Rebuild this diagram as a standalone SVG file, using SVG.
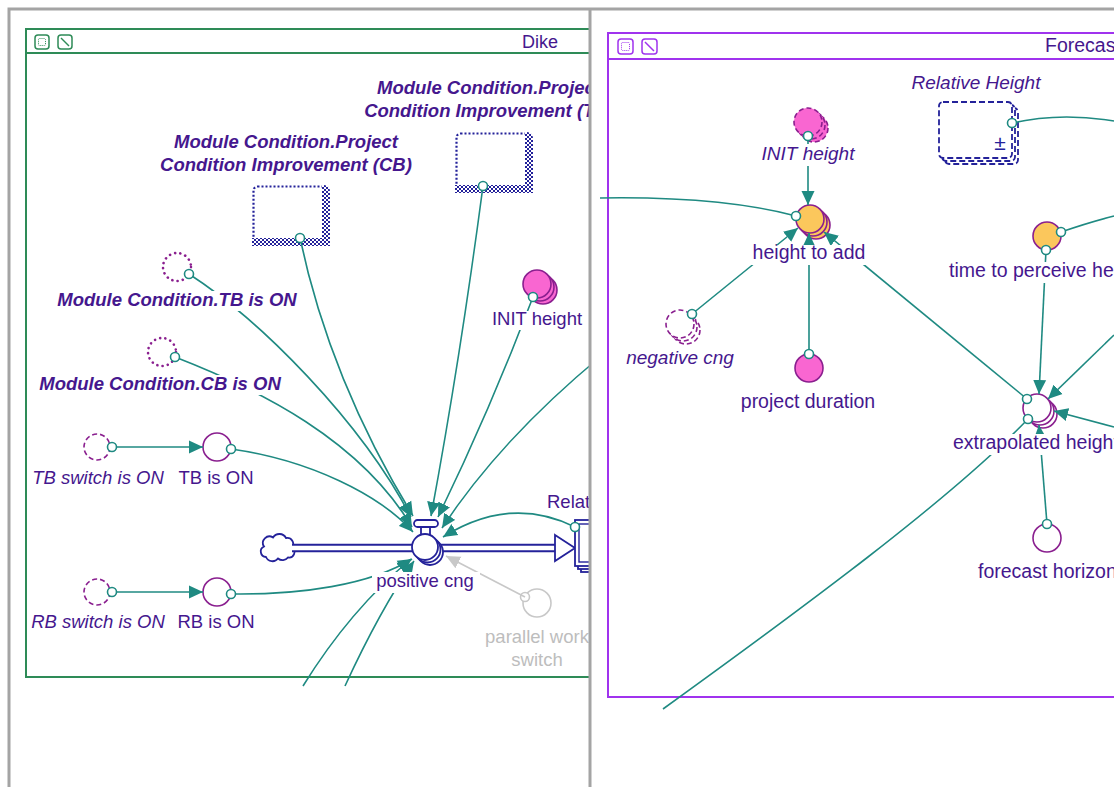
<svg xmlns="http://www.w3.org/2000/svg" width="1114" height="787" viewBox="0 0 1114 787">
<defs>
<style>
.t{font-family:"Liberation Sans",Arial,Helvetica,sans-serif;font-size:18.5px;fill:#45178e}
.r{font-size:19.5px}
.ri{font-size:19px}
.c{text-anchor:middle}
.i{font-style:italic}
.b{font-weight:bold;font-style:italic}
.g{fill:#bdbdbd}
.cn{fill:none;stroke:#1f8a82;stroke-width:1.6}
.cg{fill:none;stroke:#c8c8c8;stroke-width:1.6;marker-end:url(#ahg)}
.a{marker-end:url(#ah)}
.s{marker-start:url(#src)}
.aux{fill:#fff;stroke:#8a1f8f;stroke-width:1.6}
.pk{fill:#f966d1;stroke:#8a1f8f;stroke-width:1.6}
.or{fill:#fbc75c;stroke:#8a1f8f;stroke-width:1.6}
.dsh{stroke-dasharray:5 3}
.dots{fill:#fff;stroke:#8a1f8f;stroke-width:2.6;stroke-linecap:round;stroke-dasharray:0.1 5.2}
.nv{fill:#fff;stroke:#24229a;stroke-width:1.8}
.gh{fill:#fff;stroke:#24229a;stroke-width:1.8;stroke-dasharray:6 3}
.gray{fill:#fff;stroke:#c8c8c8;stroke-width:1.6}
.frD{fill:none;stroke:#2e8b57;stroke-width:2}
.frF{fill:none;stroke:#a033ee;stroke-width:2}
.icD{fill:#fff;stroke:#2e8b57;stroke-width:1.5}
.icF{fill:#fff;stroke:#a033ee;stroke-width:1.5}
.win{fill:none;stroke:#a4a4a4;stroke-width:3}
</style>
<clipPath id="cpL"><rect x="10" y="10" width="579" height="777"/></clipPath>
<clipPath id="cpR"><rect x="591" y="10" width="523" height="777"/></clipPath>
<pattern id="chk" width="4" height="4" patternUnits="userSpaceOnUse">
<rect width="4" height="4" fill="#fff"/>
<rect width="2" height="2" fill="#24229a"/>
<rect x="2" y="2" width="2" height="2" fill="#24229a"/>
</pattern>
<marker id="ah" markerWidth="15" markerHeight="14" refX="14" refY="7" orient="auto" markerUnits="userSpaceOnUse">
<path d="M0,0.5 L14,7 L0,13.5 Z" fill="#1f8a82"/>
</marker>
<marker id="ahg" markerWidth="15" markerHeight="14" refX="14" refY="7" orient="auto" markerUnits="userSpaceOnUse">
<path d="M0,0.5 L14,7 L0,13.5 Z" fill="#c8c8c8"/>
</marker>
<marker id="src" markerWidth="12" markerHeight="12" refX="6" refY="6" markerUnits="userSpaceOnUse">
<circle cx="6" cy="6" r="4.5" fill="#fff" stroke="#1f8a82" stroke-width="1.6"/>
</marker>
<!-- label areas that connectors run beneath -->
<mask id="lblHide" maskUnits="userSpaceOnUse" x="0" y="0" width="1114" height="787">
<rect width="1114" height="787" fill="#fff"/>
<rect x="56" y="291" width="244" height="20" fill="#000"/>
<rect x="38" y="375" width="246" height="20" fill="#000"/>
<rect x="489" y="311" width="96" height="19" fill="#000"/>
<rect x="372" y="572" width="108" height="21" fill="#000"/>
<rect x="749" y="245" width="120" height="20" fill="#000"/>
<rect x="946" y="262" width="170" height="21" fill="#000"/>
<rect x="950" y="434" width="166" height="21" fill="#000"/>
<rect x="759" y="144" width="100" height="22" fill="#000"/>
</mask>
<!-- module box: dotted outline with checkered shadow edge -->
<g id="modbox">
<rect x="1.5" y="1.5" width="72" height="56" rx="4" fill="#fff" stroke="#24229a" stroke-width="2.2" stroke-dasharray="2 2"/>
<path d="M70,0 H72 A6,6 0 0 1 78,6 V61 H0 V53 H70 Z" fill="url(#chk)"/>
</g>
</defs>

<rect width="1114" height="787" fill="#fff"/>

<!-- ===== Dike module pane ===== -->
<g clip-path="url(#cpL)">
<g id="dike-frame">
<rect x="26" y="29" width="720" height="648" class="frD"/>
<line x1="26" y1="53" x2="746" y2="53" class="frD"/>
<rect x="35" y="35" width="14" height="14" rx="3" class="icD"/>
<rect x="38.5" y="38.5" width="7" height="7" rx="1" fill="none" stroke="#2e8b57" stroke-width="1" stroke-dasharray="1 1"/>
<rect x="58" y="35" width="14" height="14" rx="3" class="icD"/>
<line x1="61" y1="38" x2="69" y2="46" stroke="#2e8b57" stroke-width="1.5"/>
<text x="540" y="48" class="t c" style="font-size:18px">Dike</text>
</g>

<g id="n-mod-cb">
<use href="#modbox" transform="translate(252,185)"/>
<text x="286" y="148" class="t c b">Module Condition.Project</text>
<text x="286" y="171" class="t c b">Condition Improvement (CB)</text>
</g>

<g id="n-mod-tb">
<use href="#modbox" transform="translate(455,132)"/>
<text x="489" y="94" class="t c b">Module Condition.Project</text>
<text x="489" y="117" class="t c b">Condition Improvement (TB)</text>
</g>

<g id="n-mc-tb-on">
<circle cx="177" cy="267" r="14" class="dots"/>
<text x="177" y="306" class="t c b">Module Condition.TB is ON</text>
</g>

<g id="n-mc-cb-on">
<circle cx="162" cy="352" r="14" class="dots"/>
<text x="160" y="390" class="t c b">Module Condition.CB is ON</text>
</g>

<g id="n-tb-switch">
<circle cx="97" cy="447" r="13" class="aux dsh"/>
<text x="98" y="484" class="t c i">TB switch is ON</text>
</g>

<g id="n-tb-on">
<circle cx="217" cy="447" r="14" class="aux"/>
<text x="216" y="484" class="t c">TB is ON</text>
</g>

<g id="n-rb-switch">
<circle cx="97" cy="592" r="13" class="aux dsh"/>
<text x="98" y="628" class="t c i">RB switch is ON</text>
</g>

<g id="n-rb-on">
<circle cx="217" cy="592" r="14" class="aux"/>
<text x="216" y="628" class="t c">RB is ON</text>
</g>

<g id="n-init-dike">
<circle cx="543" cy="290" r="14" class="pk"/>
<circle cx="540" cy="287" r="14" class="pk"/>
<circle cx="537" cy="284" r="14" class="pk"/>
<text x="537" y="325" class="t c">INIT height</text>
</g>

<g id="n-cloud">
<path d="M266,557 a5.5,5.5 0 0 1 -2,-10.5 a6.5,6.5 0 0 1 9,-9 a7.5,7.5 0 0 1 13,0.5 a6,6 0 0 1 6,9.5 a5.5,5.5 0 0 1 -4,10 a7,7 0 0 1 -10,1 a7,7 0 0 1 -12,-1.5 z" class="nv"/>
</g>

<g id="n-positive-cng">
<line x1="292" y1="548" x2="557" y2="548" stroke="#24229a" stroke-width="8.5"/>
<line x1="290" y1="548" x2="559" y2="548" stroke="#fff" stroke-width="4.5"/>
<path d="M555,535 L575,548 L555,561 Z" class="nv" stroke-width="2"/>
<circle cx="430" cy="552" r="13" class="nv" stroke-width="1.4"/>
<circle cx="427.5" cy="549.5" r="13" class="nv" stroke-width="1.4"/>
<rect x="421" y="526" width="9" height="9" class="nv" stroke-width="1.6"/>
<rect x="414" y="520" width="24" height="7" rx="3.5" class="nv" stroke-width="2"/>
<circle cx="425" cy="547" r="13" class="nv" stroke-width="2"/>
<text x="425" y="587" class="t c">positive cng</text>
</g>

<g id="n-relh-dike">
<rect x="581" y="526" width="50" height="46" class="nv" stroke-width="1.5"/>
<rect x="578" y="523" width="50" height="46" class="nv" stroke-width="1.5"/>
<rect x="575" y="520" width="50" height="46" class="nv" stroke-width="2.2"/>
<rect x="579" y="524" width="42" height="38" fill="none" stroke="#24229a" stroke-width="1.4"/>
<text x="547" y="508" class="t">Relative Height</text>
</g>

<g id="n-parallel">
<circle cx="537" cy="603" r="14" class="gray"/>
<circle cx="525" cy="597" r="4.5" class="gray"/>
<text x="537" y="643" class="t c g">parallel work</text>
<text x="537" y="666" class="t c g">switch</text>
</g>
</g>

<!-- ===== Forecast module pane ===== -->
<g clip-path="url(#cpR)">
<g id="forecast-frame">
<rect x="608" y="33" width="620" height="664" class="frF"/>
<line x1="608" y1="59" x2="1228" y2="59" class="frF"/>
<rect x="618" y="39" width="15" height="15" rx="3" class="icF"/>
<rect x="621.5" y="42.5" width="8" height="8" rx="1" fill="none" stroke="#a033ee" stroke-width="1" stroke-dasharray="1 1"/>
<rect x="642" y="39" width="15" height="15" rx="3" class="icF"/>
<line x1="645" y1="42" x2="654" y2="51" stroke="#a033ee" stroke-width="1.5"/>
<text x="1045" y="52" class="t r">Forecast</text>
</g>

<g id="n-init-fc">
<circle cx="814" cy="128" r="14" class="pk dsh"/>
<circle cx="811" cy="125" r="14" class="pk dsh"/>
<circle cx="808" cy="122" r="14" class="pk dsh"/>
<text x="808" y="160" class="t ri c i">INIT height</text>
</g>

<g id="n-relh-fc">
<rect x="945" y="108" width="73" height="56" rx="4" class="gh"/>
<rect x="942" y="105" width="73" height="56" rx="4" class="gh"/>
<rect x="939" y="102" width="73" height="56" rx="4" class="gh"/>
<text x="1000" y="150" class="t c" style="fill:#24229a;font-size:21px">±</text>
<text x="976" y="89" class="t ri c i">Relative Height</text>
</g>

<g id="n-height-to-add">
<circle cx="816" cy="225" r="14" class="or"/>
<circle cx="813" cy="222" r="14" class="or"/>
<circle cx="810" cy="219" r="14" class="or"/>
<text x="809" y="259" class="t r c">height to add</text>
</g>

<g id="n-negative-cng">
<circle cx="686" cy="330" r="14" class="aux dsh"/>
<circle cx="683" cy="327" r="14" class="aux dsh"/>
<circle cx="680" cy="324" r="14" class="aux dsh"/>
<text x="680" y="364" class="t ri c i">negative cng</text>
</g>

<g id="n-project-duration">
<circle cx="809" cy="368" r="14" class="pk"/>
<text x="808" y="408" class="t r c">project duration</text>
</g>

<g id="n-time-perceive">
<circle cx="1047" cy="236" r="14" class="or"/>
<text x="949" y="277" class="t r">time to perceive height</text>
</g>

<g id="n-extrapolated">
<circle cx="1043" cy="414" r="14" class="aux"/>
<circle cx="1040" cy="411" r="14" class="aux"/>
<circle cx="1037" cy="408" r="14" class="aux"/>
<text x="953" y="449" class="t r">extrapolated height</text>
</g>

<g id="n-forecast-horizon">
<circle cx="1047" cy="538" r="14" class="aux"/>
<text x="978" y="578" class="t r">forecast horizon</text>
</g>
</g>

<!-- ===== connectors ===== -->
<g id="connectors" mask="url(#lblHide)">
<g clip-path="url(#cpL)">
<path d="M300,238 Q330,380 413,516" class="cn s a"/>
<path d="M483,186 Q460,360 431,516" class="cn s a"/>
<path d="M189,274 C260,320 360,420 411,517" class="cn s a"/>
<path d="M175,357 C260,390 360,440 412,527" class="cn s a"/>
<path d="M231,449 C310,460 380,495 413,532" class="cn s a"/>
<path d="M231,594 C300,595 370,585 412,559" class="cn s a"/>
<path d="M303,686 Q350,610 411,559" class="cn a"/>
<path d="M345,686 Q380,610 414,561" class="cn a"/>
<path d="M533,297 Q490,410 438,517" class="cn s a"/>
<path d="M600,357 Q500,440 442,528" class="cn a"/>
<path d="M575,527 Q510,495 443,537" class="cn s a"/>
<path d="M525,597 L446,556" class="cg"/>
<path d="M112,447 L203,447" class="cn s a"/>
<path d="M112,592 L203,592" class="cn s a"/>
</g>
<g clip-path="url(#cpR)">
<path d="M796,216 Q720,196 600,198" class="cn s"/>
<path d="M808,136 L808,205" class="cn s a"/>
<path d="M692,314 L798,228" class="cn s a"/>
<path d="M809,354 L809,233" class="cn s a"/>
<path d="M1027,399 L824,232" class="cn s a"/>
<path d="M1012,123 Q1060,112 1114,121" class="cn s"/>
<path d="M1061,232 Q1090,222 1114,216" class="cn s"/>
<path d="M1046,250 L1039,394" class="cn s a"/>
<path d="M1114,335 L1048,399" class="cn a"/>
<path d="M1114,427 L1054,411" class="cn a"/>
<path d="M1047,524 L1039,425" class="cn s a"/>
<path d="M1028,419 C950,500 800,610 663,709" class="cn s"/>
</g>
</g>

<!-- window borders -->
<g id="window">
<path d="M9,787 V9 H1114" class="win"/>
<line x1="590" y1="9" x2="590" y2="787" class="win"/>
</g>
</svg>
